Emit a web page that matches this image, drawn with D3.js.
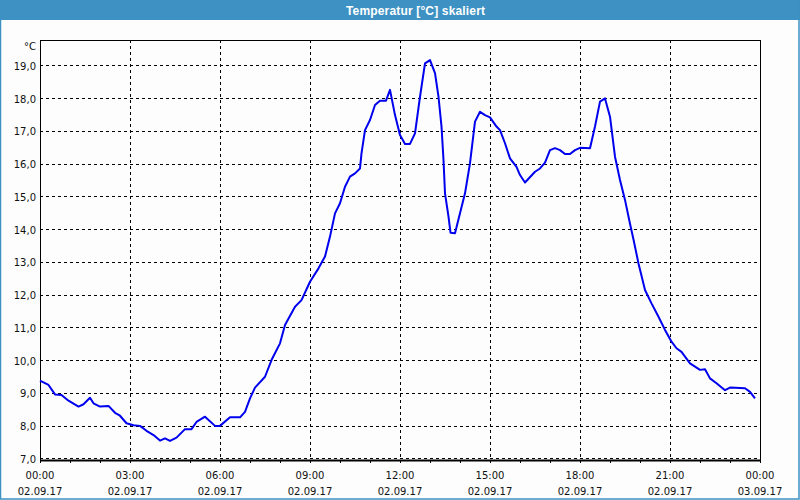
<!DOCTYPE html>
<html><head><meta charset="utf-8">
<script src="https://cdn.jsdelivr.net/npm/d3@7"></script>
<style>
html,body{margin:0;padding:0;background:#fff;}
svg{display:block;}
</style></head>
<body>
<svg id="chart" width="800" height="500"></svg>
<script>
// ---- data ----
const chartTitle = "Temperatur [°C] skaliert";
const unitLabel = "°C";
const times = [
 "00:00","00:17","00:30","00:43","00:57","01:17","01:27","01:40","01:47","02:00",
 "02:17","02:30","02:40","02:53","03:07","03:20","03:33","03:47","04:00","04:10",
 "04:20","04:33","04:50","05:03","05:13","05:30","05:50","06:00","06:20","06:40",
 "06:50","07:00","07:10","07:30","07:43","08:00","08:10","08:30","08:43","09:00",
 "09:17","09:30","09:40","09:50","10:00","10:10","10:20","10:30","10:40","10:43",
 "10:50","11:00","11:10","11:20","11:32","11:40","11:50","12:00","12:10","12:20",
 "12:30","12:40","12:50","13:00","13:10","13:17","13:23","13:27","13:30","13:37",
 "13:41","13:50","14:00","14:10","14:20","14:30","14:40","14:50","15:00","15:13",
 "15:20","15:30","15:40","15:53","16:00","16:10","16:30","16:40","16:50","17:00",
 "17:10","17:20","17:30","17:40","17:50","18:00","18:20","18:30","18:40","18:50",
 "19:00","19:10","19:20","19:30","19:40","19:47","19:57","20:10","20:23","20:37",
 "20:50","21:03","21:13","21:23","21:40","21:50","22:00","22:10","22:20","22:33",
 "22:50","23:00","23:30","23:40","23:50"
];
const temps = [
 9.37,9.24,8.95,8.93,8.76,8.58,8.65,8.85,8.68,8.58,
 8.60,8.39,8.30,8.07,8.01,7.99,7.84,7.71,7.54,7.61,
 7.53,7.63,7.89,7.89,8.11,8.27,7.99,7.99,8.25,8.25,
 8.42,8.83,9.16,9.49,10.00,10.51,11.07,11.63,11.83,12.39,
 12.80,13.16,13.77,14.48,14.79,15.29,15.60,15.70,15.85,16.31,
 17.02,17.33,17.79,17.92,17.92,18.25,17.48,16.87,16.60,16.60,
 16.92,18.04,19.06,19.16,18.76,18.04,17.13,16.11,15.09,14.38,
 13.89,13.87,14.48,15.09,16.01,17.28,17.58,17.48,17.41,17.13,
 17.02,16.62,16.16,15.90,15.65,15.42,15.75,15.85,16.03,16.41,
 16.47,16.41,16.29,16.29,16.41,16.48,16.47,17.13,17.89,17.99,
 17.43,16.21,15.50,14.89,14.16,13.68,12.95,12.14,11.73,11.32,
 10.92,10.56,10.36,10.25,9.90,9.80,9.70,9.72,9.44,9.29,
 9.08,9.16,9.14,9.03,8.83
];
const dayStart = "2017-09-02";
const dayEnd = "2017-09-03";
const yTicks = [7,8,9,10,11,12,13,14,15,16,17,18,19];

// ---- layout ----
const svg = d3.select("#chart");
const W = 800, H = 500;
const L = 40, R = 760, T = 40, B = 460;
const font = "'DejaVu Sans', Tahoma, sans-serif";

const parseDT = d3.timeParse("%Y-%m-%d %H:%M");
const t0 = parseDT(dayStart + " 00:00"), t1 = parseDT(dayEnd + " 00:00");
const data = times.map((t,i)=>({t: parseDT(dayStart + " " + t), v: temps[i]}));

const x = d3.scaleTime().domain([t0, t1]).range([L, R]);
const y = d3.scaleLinear().domain([6.948, 19.773]).range([B, T]);

// window background & border
svg.append("rect").attr("x",0).attr("y",0).attr("width",W).attr("height",H).attr("fill","#fcfdfc");
svg.append("rect").attr("x",0).attr("y",0).attr("width",W).attr("height",20).attr("fill","#3d91c3");
svg.append("rect").attr("x",0.5).attr("y",0.5).attr("width",W-1.5).attr("height",H-1.5)
  .attr("fill","none").attr("stroke","#3d91c3").attr("stroke-width",1.5);
svg.append("text").attr("x",346).attr("y",15).attr("fill","#ffffff")
  .attr("font-family","'Liberation Sans', Arial, sans-serif").attr("font-weight","bold").attr("font-size",12)
  .attr("textLength",139).text(chartTitle);

// grid
const grid = svg.append("g").attr("stroke","#000").attr("stroke-width",1)
  .attr("stroke-dasharray","3,3").attr("shape-rendering","crispEdges");
grid.selectAll("line.h").data(yTicks).join("line").attr("class","h")
  .attr("x1",L).attr("x2",R).attr("y1",d=>Math.round(y(d))+0.5).attr("y2",d=>Math.round(y(d))+0.5);
const vTicks = d3.timeHour.every(3).range(t0, t1).filter(d=>+d!==+t0);
grid.selectAll("line.v").data(vTicks).join("line").attr("class","v")
  .attr("y1",T).attr("y2",B).attr("x1",d=>Math.round(x(d))+0.5).attr("x2",d=>Math.round(x(d))+0.5);

// frame
svg.append("rect").attr("x",L+0.5).attr("y",T+0.5).attr("width",R-L).attr("height",B-T)
  .attr("fill","none").attr("stroke","#000").attr("stroke-width",1).attr("shape-rendering","crispEdges");

// x axis
const xAxis = d3.axisBottom(x).ticks(d3.timeHour.every(1)).tickSize(3).tickSizeOuter(0)
  .tickFormat(()=> "");
const gx = svg.append("g").attr("transform",`translate(0,${B})`).call(xAxis);
gx.select(".domain").attr("stroke","#000").attr("stroke-width",2);
gx.selectAll(".tick line").attr("stroke","#000").attr("shape-rendering","crispEdges");
const labelTicks = d3.timeHour.every(3).range(t0, d3.timeMinute.offset(t1,1));
const fmtH = d3.timeFormat("%H:%M"), fmtD = d3.timeFormat("%d.%m.%y");
const lab = svg.append("g").attr("font-family",font).attr("font-size",10).attr("fill","#111")
  .attr("text-anchor","middle");
lab.selectAll("text.h").data(labelTicks).join("text").attr("class","h")
  .attr("x",d=>x(d)).attr("y",479).text(d=>fmtH(d));
lab.selectAll("text.d").data(labelTicks).join("text").attr("class","d")
  .attr("x",d=>x(d)).attr("y",495).text(d=>fmtD(d));

// y labels
const fmtY = v => d3.format(".1f")(v).replace(".", ",");
const ylab = svg.append("g").attr("font-family",font).attr("font-size",10).attr("fill","#111")
  .attr("text-anchor","end");
ylab.selectAll("text").data(yTicks).join("text")
  .attr("x",36).attr("y",d=>y(d)+4.5).text(d=>fmtY(d));
svg.append("text").attr("x",36).attr("y",50).attr("text-anchor","end")
  .attr("font-family",font).attr("font-size",10).attr("fill","#111").text(unitLabel);

// line
const line = d3.line().x(d=>x(d.t)).y(d=>y(d.v)).curve(d3.curveLinear);
svg.append("path").datum(data).attr("d",line).attr("fill","none")
  .attr("stroke","#0000ee").attr("stroke-width",2).attr("stroke-linejoin","round");
</script>
</body></html>
